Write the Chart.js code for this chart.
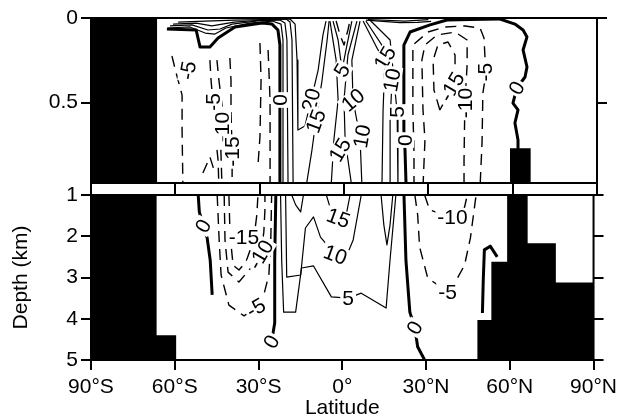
<!DOCTYPE html>
<html><head><meta charset="utf-8">
<script src="https://cdn.jsdelivr.net/npm/chart.js@4.4.1/dist/chart.umd.min.js"></script>
<style>
html,body{margin:0;padding:0;background:#fff;}
#wrap{position:relative;width:622px;height:418px;overflow:hidden;}
#cTop{position:absolute;left:0;top:0;}
#cBot{position:absolute;left:0;top:175px;}
</style></head><body>
<div id="wrap"><canvas id="cTop" width="622" height="200"></canvas><canvas id="cBot" width="622" height="246"></canvas></div>
<script>
// ---------- axes ----------
const latTicks = [-90, -60, -30, 0, 30, 60, 90];
const latTickLabels = ['90°S', '60°S', '30°S', '0°', '30°N', '60°N', '90°N'];
const topDepthTicks = [0, 0.5];
const botDepthTicks = [1, 2, 3, 4, 5];
const topDepthMax = 0.976;
const botDepthMin = 1;
const botDepthMax = 5;

// ---------- land / ocean floor (km), stepped ----------
const landLat    = [-90, -66.5, -59.5, 48.4, 53.4, 59.05, 66.4, 76.5, 90];
const floorDepth = [0,    4.4,   5,    4.03, 2.62, 0.77,  2.17, 3.12, 3.12];

// ---------- contours, upper panel: [latitude, depth km] ----------
const cT0S  = [[-63.0,0.065],[-52.6,0.071],[-51.2,0.172],[-47.7,0.172],[-44.8,0.118],[-38.8,0.053],[-29.2,0.030],[-25.6,0.036],[-23.5,0.071],[-22.8,0.16],[-22.8,1.0]];
const cT5S  = [[-62.6,0.059],[-54.8,0.053],[-49.4,0.089],[-45.9,0.095],[-42.0,0.059],[-33.4,0.030],[-25.6,0.018],[-22.4,0.036],[-21.7,0.13],[-21.7,1.0]];
const cT10S = [[-61.9,0.047],[-54.1,0.041],[-48.4,0.071],[-44.1,0.065],[-39.8,0.036],[-29.9,0.015],[-22.8,0.012],[-21.0,0.030],[-20.3,0.13],[-19.9,1.0]];
const cT15S = [[-60.8,0.036],[-52.6,0.030],[-47.0,0.047],[-39.1,0.024],[-26.3,0.009],[-20.6,0.006],[-19.2,0.024],[-18.5,0.13],[-18.1,1.0]];
const cT20  = [[-59.0,0.024],[-49.4,0.018],[-38.8,0.012],[-19.2,0.006],[-17.4,0.036],[-16.7,0.249],[-16.4,0.663],[-13.9,0.639],[-11.7,0.485],[-9.2,0.308],[-7.5,0.101],[-6.4,0.018]];
const cT15R = [[-13.5,1.0],[-11.4,0.781],[-10.0,0.609],[-7.8,0.367],[-6.0,0.13],[-5.3,0.018]];
const cQ1 = [[-5.0,0.018],[-2.8,0.249],[-2.1,0.485],[-3.6,0.722],[-4.6,1.0]];
const cQ2 = [[4.6,0.018],[1.4,0.219],[0.0,0.485],[0.4,0.722],[2.8,1.0]];
const cQ3 = [[5.7,0.018],[2.8,0.249],[3.2,0.485],[5.7,0.704],[6.4,1.0]];
const cQ4 = [[6.8,0.018],[12.1,0.189],[14.6,0.237],[13.9,0.544],[13.5,1.0]];
const cQ5 = [[7.8,0.018],[14.6,0.189],[17.1,0.367],[16.4,0.604],[16.4,1.0]];
const cQ6 = [[9.2,0.012],[16.4,0.13],[18.9,0.556],[19.2,1.0]];
const cQ7 = [[-3.9,0.018],[-2.1,0.13],[-0.7,0.308],[0.7,0.189],[2.8,0.018]];
const cQ8 = [[-2.8,0.018],[-1.4,0.101],[0.0,0.16],[1.4,0.071],[2.1,0.018]];
const cNL1 = [[7.8,0.012],[19.9,0.027],[26.0,0.026],[31.0,0.02]];
const cNL2 = [[8.5,0.009],[21.7,0.018],[30.0,0.01]];
const cT0N  = [[55.5,0.006],[44.8,0.009],[36.6,0.012],[30.6,0.041],[23.5,0.083],[21.3,0.16],[21.3,0.663],[21.7,0.781],[22.1,1.0]];
const cT0NA = [[55.5,0.006],[60.8,0.036],[63.7,0.071],[65.1,0.112],[63.7,0.189],[65.1,0.29],[64.4,0.349],[61.5,0.414],[60.1,0.503],[61.9,0.544],[60.8,0.621],[61.9,0.722],[61.9,0.79]];
const cDN5  = [[24.9,1.0],[24.9,0.799],[24.5,0.544],[24.5,0.237],[24.5,0.16],[29.9,0.083],[35.9,0.053],[43.0,0.047],[48.4,0.059],[49.8,0.118],[50.2,0.249],[50.2,0.36],[49.4,0.444],[49.1,0.74],[48.4,1.0]];
const cDN10 = [[28.1,1.0],[28.8,0.722],[28.1,0.544],[27.7,0.249],[28.8,0.16],[33.1,0.101],[39.5,0.083],[43.8,0.13],[43.8,0.278],[43.0,0.503],[42.7,0.84],[42.7,1.0]];
const cDN15 = [[34.1,0.544],[32.0,0.426],[31.7,0.249],[33.4,0.16],[37.0,0.142],[39.5,0.219],[39.5,0.308],[38.4,0.408],[36.6,0.467],[34.1,0.544]];
const cDSa = [[-61.2,0.225],[-59.8,0.32],[-57.6,0.456],[-57.6,0.663],[-57.3,1.0]];
const cDSb = [[-47.7,0.249],[-47.3,0.367],[-46.6,0.503],[-45.9,0.663],[-44.8,0.84],[-44.5,1.0]];
const cDSc = [[-45.2,0.249],[-44.5,0.367],[-43.4,0.515],[-43.4,0.645],[-43.8,0.781],[-43.4,1.0]];
const cDSd = [[-40.6,0.237],[-40.2,0.367],[-40.2,0.562],[-39.8,0.781],[-39.8,0.941]];
const cDSe = [[-50.2,0.917],[-47.7,0.822],[-45.9,0.917]];
const cDSf = [[-29.9,0.148],[-29.5,0.367],[-29.9,0.704],[-30.6,0.87]];
const cDSg = [[-27.0,0.189],[-26.3,0.485],[-26.3,1.0]];

// ---------- contours, lower panel ----------
const cB0S  = [[-51.6,1.0],[-51.2,1.41],[-49.8,1.75],[-48.4,2.04],[-47.3,2.58],[-46.6,3.42]];
const cB0a  = [[-23.8,1.0],[-24.2,2.58],[-24.2,4.10],[-25.3,4.56]];
const cB0N  = [[22.1,1.0],[22.8,2.58],[24.2,3.84],[26.0,4.22],[27.0,4.68],[29.5,5.0]];
const cB0NA = [[50.2,3.86],[50.5,3.06],[50.9,2.33],[53.0,2.24],[55.5,2.50]];
const cB5   = [[-22.1,1.0],[-21.7,2.58],[-21.0,3.84],[-16.7,3.84],[-14.6,2.77],[-10.3,2.72],[-3.9,3.47],[2.1,3.50],[6.8,3.38],[15.7,3.74],[17.1,2.58],[19.2,1.0]];
const cB10  = [[-20.3,1.0],[-19.9,2.99],[-14.9,2.94],[-13.2,1.80],[-10.3,1.53],[-7.8,2.02],[-2.5,2.45],[1.4,2.50],[3.9,2.09],[6.8,1.0]];
const cB15a = [[-18.1,1.0],[-16.7,1.24],[-14.9,1.41],[-13.9,1.0]];
const cB15b = [[-5.7,1.0],[-3.9,1.41],[-1.4,1.56],[1.4,1.48],[2.8,1.0]];
const cBV   = [[13.9,1.0],[14.9,1.73],[16.0,2.21],[17.1,1.73],[18.1,1.0]];
const cBD5S  = [[-44.8,1.0],[-44.1,2.09],[-43.4,2.94],[-40.6,3.67],[-35.2,3.93],[-30.9,3.74],[-28.1,3.42],[-26.3,2.94],[-25.6,2.09],[-25.3,1.0]];
const cBD10S = [[-42.3,1.0],[-42.0,2.09],[-40.9,2.87],[-37.0,3.11],[-33.4,2.82],[-29.2,2.45],[-28.1,1.90],[-27.7,1.36],[-27.7,1.0]];
const cBD15S = [[-40.6,1.0],[-40.2,1.97],[-39.1,2.70],[-37.0,2.82],[-34.5,2.62],[-31.7,2.09],[-30.6,1.48],[-30.2,1.0]];
const cBD5N  = [[26.0,1.0],[27.0,1.48],[27.7,2.26],[30.6,3.01],[37.7,3.35],[41.3,3.01],[43.8,2.70],[45.9,2.04],[47.7,1.12],[48.0,1.0]];
const cBD10N = [[29.5,1.0],[31.3,1.36],[38.4,1.53],[43.4,1.41],[44.8,1.0]];

// ---------- contour labels: [text, latitude, depth, angle deg] ----------
const topLabels = [
  ['0',-22.8,0.485,-90],['-5',-55.5,0.31,-80],['-5',-46.6,0.50,-90],['-10',-43.4,0.645,-90],['-15',-39.8,0.79,-90],
  ['20',-11.7,0.485,-75],['15',-10.0,0.61,-70],['15',-1.4,0.78,-60],['10',3.2,0.485,-40],['10',6.4,0.70,-80],
  ['15',14.6,0.237,-60],['10',17.1,0.367,-80],['5',18.9,0.556,-90],['0',21.7,0.722,-90],
  ['-15',38.4,0.408,-60],['-10',43.0,0.503,-90],['-5',50.2,0.32,-90],['0',61.5,0.414,-60],['5',-0.7,0.31,-60]
];
const botLabels = [
  ['0',-49.8,1.75,-60],['0',-25.3,4.56,-60],['0',26.0,4.22,-60],['-15',-35.2,2.02,0],['-10',-29.2,2.45,-60],
  ['-5',-30.9,3.74,-30],['15',-1.4,1.56,20],['10',-2.5,2.45,20],['5',2.1,3.50,0],['-10',39.5,1.53,0],['-5',37.7,3.35,0]
];

const topContours = [
  {pts:cT0S,level:0},{pts:cT5S,level:5},{pts:cT10S,level:10},{pts:cT15S,level:15},{pts:cT20,level:20},{pts:cT15R,level:15},
  {pts:cQ1,level:15},{pts:cQ2,level:15},{pts:cQ3,level:10},{pts:cQ4,level:15},{pts:cQ5,level:10},{pts:cQ6,level:5},
  {pts:cQ7,level:5},{pts:cQ8,level:-5},{pts:cNL1,level:5},{pts:cNL2,level:10},{pts:cT0N,level:0},{pts:cT0NA,level:0},
  {pts:cDN5,level:-5},{pts:cDN10,level:-10},{pts:cDN15,level:-15},
  {pts:cDSa,level:-5},{pts:cDSb,level:-5},{pts:cDSc,level:-10},{pts:cDSd,level:-15},{pts:cDSe,level:-20},{pts:cDSf,level:-5},{pts:cDSg,level:-5}
];
const botContours = [
  {pts:cB0S,level:0},{pts:cB0a,level:0},{pts:cB0N,level:0},{pts:cB0NA,level:0},
  {pts:cB5,level:5},{pts:cB10,level:10},{pts:cB15a,level:15},{pts:cB15b,level:15},{pts:cBV,level:10},
  {pts:cBD5S,level:-5},{pts:cBD10S,level:-10},{pts:cBD15S,level:-15},{pts:cBD5N,level:-5},{pts:cBD10N,level:-10}
];

// ---------- builders ----------
const FAM = "'Liberation Sans', Arial, Helvetica, sans-serif";
function contourSets(list){
  return list.map(c => ({
    data: c.pts.map(p => ({x:p[0], y:p[1]})),
    borderColor:'#000',
    borderWidth: c.level === 0 ? 3 : (c.level < 0 ? 1.4 : 1.2),
    borderDash: c.level < 0 ? [11,7] : [],
    pointRadius:0, fill:false, tension:0, borderJoinStyle:'round'
  }));
}
function landSet(fillTo){
  return {
    data: landLat.map((x,i) => ({x:x, y:floorDepth[i]})),
    stepped:true, borderWidth:0, borderColor:'rgba(0,0,0,0)', backgroundColor:'#000',
    pointRadius:0, fill:{value:fillTo}
  };
}
function labelPlugin(labels){
  return {
    id:'clabels',
    afterDatasetsDraw(chart){
      const ctx = chart.ctx, xs = chart.scales.x, ys = chart.scales.y;
      const a = chart.chartArea;
      ctx.save();
      ctx.beginPath(); ctx.rect(a.left, a.top, a.right-a.left, a.bottom-a.top); ctx.clip();
      ctx.font = '21px ' + FAM;
      ctx.textAlign = 'center'; ctx.textBaseline = 'middle';
      labels.forEach(l => {
        const px = xs.getPixelForValue(l[1]), py = ys.getPixelForValue(l[2]);
        ctx.save();
        ctx.translate(px, py); ctx.rotate(l[3]*Math.PI/180);
        const w = ctx.measureText(l[0]).width;
        ctx.fillStyle = '#fff'; ctx.fillRect(-w/2-2, -9, w+4, 18);
        ctx.fillStyle = '#000'; ctx.fillText(l[0], 0, 1);
        ctx.restore();
      });
      ctx.restore();
    }
  };
}
const framePlugin = {
  id:'frame',
  afterDraw(chart){
    const a = chart.chartArea, ctx = chart.ctx;
    ctx.save(); ctx.strokeStyle = '#000'; ctx.lineWidth = 2;
    ctx.strokeRect(a.left, a.top, a.right-a.left, a.bottom-a.top);
    ctx.restore();
  }
};
function tickGrid(len){ return {display:true, drawOnChartArea:false, drawTicks:true, tickLength:len, color:'#000', lineWidth:2}; }
function yAxes(ticksArr, min, max, title){
  const left = {
    type:'linear', position:'left', reverse:true, min:min, max:max,
    afterBuildTicks: s => { s.ticks = ticksArr.map(v => ({value:v})); },
    ticks:{color:'#000', font:{family:FAM, size:21}, padding:3, callback: v => String(v)},
    grid: tickGrid(10), border:{display:false},
    afterFit: s => { s.width = 91; }
  };
  if (title) left.title = {display:true, text:title, color:'#000', font:{family:FAM, size:21}, padding:{top:9, bottom:0}};
  const right = {
    type:'linear', position:'right', reverse:true, min:min, max:max,
    afterBuildTicks: s => { s.ticks = ticksArr.map(v => ({value:v})); },
    ticks:{display:false}, grid: tickGrid(10), border:{display:false},
    afterFit: s => { s.width = 25; }
  };
  return {left, right};
}
const common = {
  responsive:false, animation:false, events:[],
  plugins:{legend:{display:false}, tooltip:{enabled:false}}
};

// ---------- upper panel ----------
const yT = yAxes(topDepthTicks, 0, topDepthMax, null);
new Chart(document.getElementById('cTop'), {
  type:'line',
  data:{datasets:[landSet(topDepthMax)].concat(contourSets(topContours))},
  options:Object.assign({}, common, {
    layout:{padding:{top:18, left:0, right:0, bottom:0}},
    scales:{
      x:{type:'linear', position:'bottom', min:-90, max:90,
         afterBuildTicks: s => { s.ticks = latTicks.map(v => ({value:v})); },
         ticks:{display:false}, grid:tickGrid(12), border:{display:false},
         afterFit: s => { s.height = 17; }},
      y:yT.left, y2:yT.right
    }
  }),
  plugins:[labelPlugin(topLabels), framePlugin]
});

// ---------- lower panel ----------
const yB = yAxes(botDepthTicks, botDepthMin, botDepthMax, 'Depth (km)');
new Chart(document.getElementById('cBot'), {
  type:'line',
  data:{datasets:[landSet(botDepthMax)].concat(contourSets(botContours))},
  options:Object.assign({}, common, {
    layout:{padding:{top:20, left:0, right:0, bottom:0}},
    scales:{
      x:{type:'linear', position:'bottom', min:-90, max:90,
         afterBuildTicks: s => { s.ticks = latTicks.map(v => ({value:v})); },
         ticks:{color:'#000', font:{family:FAM, size:21}, padding:5, maxRotation:0, autoSkip:false,
                callback:(v, i) => latTickLabels[i]},
         grid:tickGrid(10), border:{display:false},
         title:{display:true, text:'Latitude', color:'#000', font:{family:FAM, size:21}, padding:{top:0, bottom:0}},
         afterFit: s => { s.height = 61; }},
      y:yB.left, y2:yB.right
    }
  }),
  plugins:[labelPlugin(botLabels), framePlugin]
});
</script>
</body></html>
